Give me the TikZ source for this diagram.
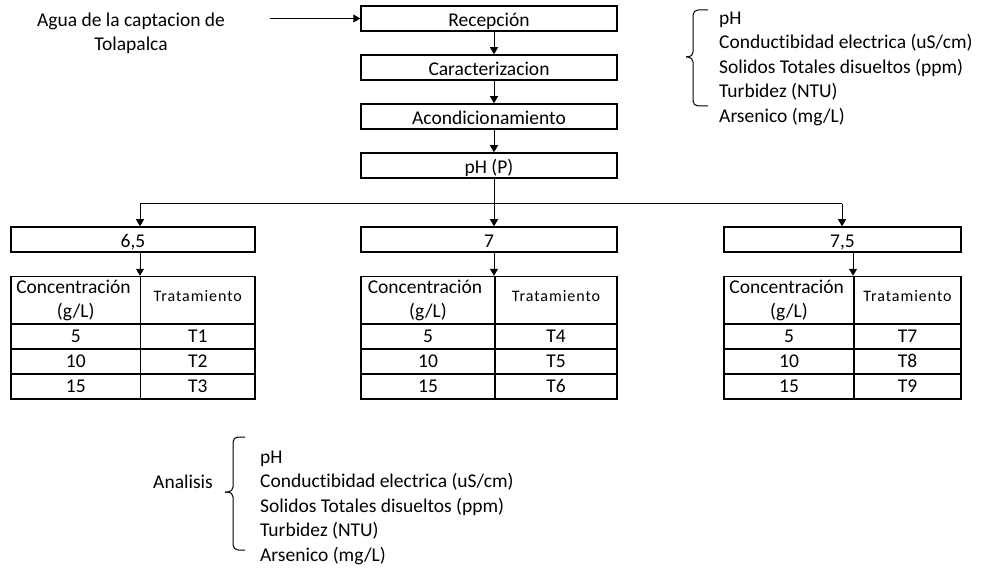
\documentclass[tikz,border=0pt]{standalone}
\usepackage{fontspec}
\setmainfont[Ligatures=NoCommon]{Carlito}
\newfontfamily\tratfont[LetterSpace=6,Ligatures=NoCommon]{Carlito}
\usepackage{array}
\usetikzlibrary{positioning,arrows.meta}
\setlength{\tabcolsep}{0pt}
\setlength{\arrayrulewidth}{1.5pt}
\newcommand{\fila}{\rule[-5.5pt]{0pt}{23.5pt}}
\newcommand{\tabla}[5]{%
	\def\arraystretch{0.5}%
	\begin{tabular}{|>{\centering\arraybackslash}m{#1}|>{\centering\arraybackslash}m{#2}|} \hline
		\rule{0pt}{16.5pt}Concentración\newline(g/L)\rule[-5.5pt]{0pt}{0pt} & {\tratfont\fontsize{16}{18}\selectfont Tratamiento} \\ \hline
		\fila 5 & \fila #3 \\ \hline
		\fila 10 & \fila #4 \\ \hline
		\fila 15 & \fila #5 \\ \hline
	\end{tabular}}

\begin{document}
\begin{tikzpicture}[x=1pt, y=-1pt, font=\fontsize{19.5}{24}\selectfont, node distance=22.5pt,
		caja/.style={draw, line width=1.5pt, inner sep=0pt, minimum height=25pt, text height=16pt, text depth=0pt},
		lista/.style={inner sep=0pt, anchor=north west, align=left, font=\fontsize{19.5}{24.5}\selectfont},
		flecha/.style={line width=1pt, -{Triangle[width=8pt,length=7pt]}},
		llave/.style={line width=1pt, rounded corners=5pt}]
	\useasboundingbox (0,0) rectangle (995,569);
	\node (agua) [inner sep=0pt, anchor=north, align=center] at (131,12.6) {Agua de la captacion de\\Tolapalca};
	\node (rec) [caja, minimum width=256pt] at (489,18.5) {Recepción};
	\node (car) [caja, minimum width=256pt, below=of rec] {Caracterizacion};
	\node (aco) [caja, minimum width=256pt, below=of car] {Acondicionamiento};
	\node (ph) [caja, minimum width=256pt, below=of aco] {pH (P)};
	\node (p7) [caja, minimum width=256pt, below=47.5pt of ph] {7};
	\node (p65) [caja, minimum width=244pt, left=104.5pt of p7] {6,5};
	\node (p75) [caja, minimum width=237pt, right=105.5pt of p7] {7,5};
	\node (tab1) [inner sep=0pt, below=23pt of p65] {\tabla{128pt}{113pt}{T1}{T2}{T3}};
	\node (tab2) [inner sep=0pt, below=23pt of p7] {\tabla{132.5pt}{120.5pt}{T4}{T5}{T6}};
	\node (tab3) [inner sep=0pt, below=23pt of p75] {\tabla{128.5pt}{105.5pt}{T7}{T8}{T9}};
	\node (param) [lista] at (719,11.7) {pH\\Conductibidad electrica (uS/cm)\\Solidos Totales disueltos (ppm)\\Turbidez (NTU)\\Arsenico (mg/L)};
	\node (analisis) at (183,482) {Analisis};
	\node (medidas) [lista] at (260,450.7) {pH\\Conductibidad electrica (uS/cm)\\Solidos Totales disueltos (ppm)\\Turbidez (NTU)\\Arsenico (mg/L)};
	\coordinate (ini) at (270,18.5);
	\coordinate (eje) at (494,0);
	\coordinate (d65) at (140,204);
	\coordinate (d75) at (842,204);
	\coordinate (t75) at (853,0);
	\draw[flecha] (ini) -- (rec.west);
	\foreach \a/\b in {rec/car, car/aco, aco/ph, ph/p7}
		\draw[flecha] (\a.south -| eje) -- (\b.north -| eje);
	\draw[flecha] (d75) -- (d65) -- (p65.north -| d65);
	\draw[flecha] (d75) -- (p75.north -| d75);
	\draw[flecha] (p65.south -| d65) -- (tab1.north -| d65);
	\draw[flecha] (p7.south -| eje) -- (tab2.north -| eje);
	\draw[flecha] (p75.south -| t75) -- (tab3.north -| t75);
	\draw[llave] (708,10) -| (693,57) -- (686,57);
	\draw[llave] (708,106) -| (693,57) -- (686,57);
	\draw[llave] (245,437) -| (233,492) -- (225,492);
	\draw[llave] (245,550) -| (233,492) -- (225,492);
\end{tikzpicture}
\end{document}
